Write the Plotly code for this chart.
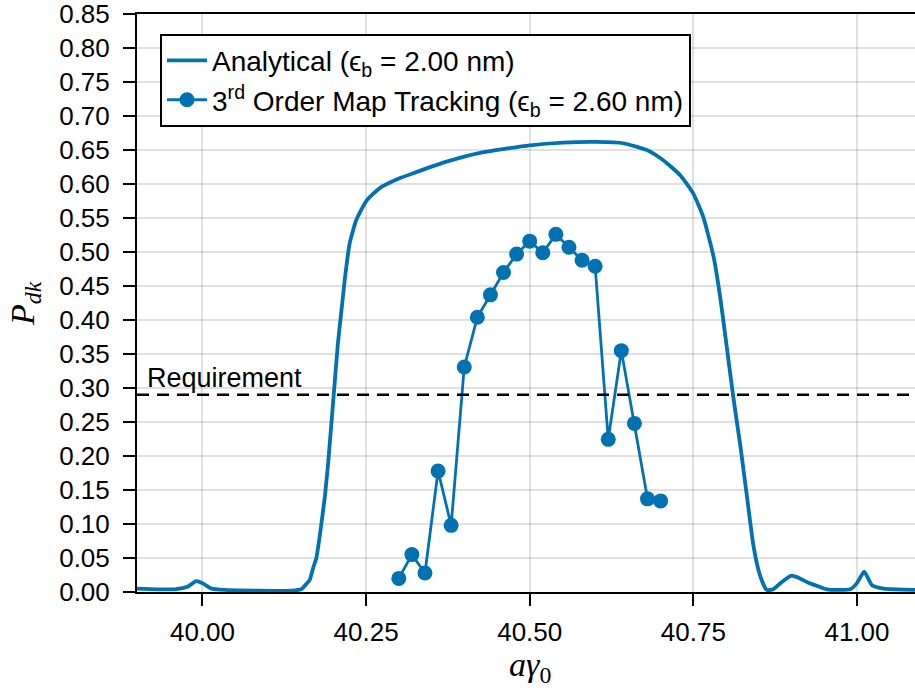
import plotly.graph_objects as go

# ---- data ----
ana_x = [39.90, 39.93, 39.958, 39.978, 39.99, 40.00, 40.014, 40.034, 40.085, 40.136,
         40.151, 40.159, 40.164, 40.169, 40.174, 40.179, 40.187, 40.192, 40.197, 40.202,
         40.207, 40.2125, 40.218, 40.225, 40.235, 40.251, 40.271, 40.30, 40.322, 40.373,
         40.424, 40.50, 40.551, 40.602, 40.643, 40.679, 40.704, 40.730, 40.750, 40.765,
         40.781, 40.791, 40.801, 40.811, 40.822, 40.832, 40.842, 40.852, 40.862, 40.872,
         40.883, 40.90, 40.913, 40.925, 40.939, 40.954, 40.99, 41.00, 41.011, 41.023,
         41.041, 41.10]
ana_y = [0.005, 0.004, 0.004, 0.008, 0.016, 0.013, 0.005, 0.003, 0.002, 0.002,
         0.004, 0.012, 0.018, 0.035, 0.050, 0.081, 0.140, 0.189, 0.248, 0.307,
         0.366, 0.415, 0.464, 0.513, 0.547, 0.576, 0.594, 0.608, 0.616, 0.633,
         0.646, 0.657, 0.661, 0.662, 0.660, 0.650, 0.635, 0.613, 0.586, 0.552,
         0.493, 0.434, 0.361, 0.287, 0.214, 0.140, 0.067, 0.024, 0.003, 0.004,
         0.013, 0.024, 0.020, 0.014, 0.009, 0.004, 0.004, 0.013, 0.030, 0.010,
         0.005, 0.003]

trk_x = [40.30, 40.32, 40.34, 40.36, 40.38, 40.40, 40.42, 40.44, 40.46, 40.48, 40.50,
         40.52, 40.54, 40.56, 40.58, 40.60, 40.62, 40.64, 40.66, 40.68, 40.70]
trk_y = [0.020, 0.055, 0.028, 0.178, 0.098, 0.331, 0.404, 0.437, 0.470, 0.497, 0.516,
         0.499, 0.526, 0.507, 0.488, 0.479, 0.2245, 0.355, 0.248, 0.137, 0.134]

requirement = 0.29
x_ticks = [40.00, 40.25, 40.50, 40.75, 41.00]
y_ticks = [round(0.05 * i, 2) for i in range(18)]

BLUE = "#0072B2"
FONT = "Liberation Sans"
MATH = "Liberation Serif"

fig = go.Figure()
fig.add_trace(go.Scatter(
    x=ana_x, y=ana_y, mode="lines", name="Analytical (ϵ<sub>b</sub> = 2.00 nm)",
    line=dict(color=BLUE, width=3.8, shape="spline", smoothing=0.5)))
fig.add_trace(go.Scatter(
    x=trk_x, y=trk_y, mode="lines+markers",
    name="3<sup>rd</sup> Order Map Tracking (ϵ<sub>b</sub> = 2.60 nm)",
    line=dict(color=BLUE, width=2.8), marker=dict(color=BLUE, size=15)))

fig.add_shape(type="line", xref="paper", yref="y", x0=0, x1=1, y0=requirement, y1=requirement,
              line=dict(color="black", width=2.5, dash="12px,8px"))
fig.add_annotation(text="Requirement", xref="paper", yref="y", x=0.0103, y=requirement,
                   xanchor="left", yanchor="bottom", yshift=0, showarrow=False,
                   font=dict(family=FONT, size=27, color="black"))

fig.add_annotation(text="<i>P</i><sub><i>dk</i></sub>", xref="paper", yref="paper",
                   x=-0.144, y=0.5, xanchor="center", yanchor="middle", textangle=-90,
                   showarrow=False, font=dict(family=MATH, size=34, color="black"))
fig.add_annotation(text="<i>aγ</i><sub>0</sub>", xref="x", yref="paper",
                   x=40.50, y=-0.13, xanchor="center", yanchor="middle",
                   showarrow=False, font=dict(family=MATH, size=34, color="black"))

fig.update_layout(
    width=915, height=692,
    margin=dict(l=137, r=0, t=14, b=100),
    paper_bgcolor="white", plot_bgcolor="white",
    font=dict(family=FONT, size=26, color="black"),
    showlegend=True,
    legend=dict(x=0.0296, y=0.966, xanchor="left", yanchor="top",
                bordercolor="black", borderwidth=2, bgcolor="white",
                font=dict(family=FONT, size=28), tracegroupgap=0, itemwidth=40),
)
fig.update_xaxes(
    range=[39.9, 41.0887], tickvals=x_ticks, ticktext=[f"{v:.2f}" for v in x_ticks],
    showgrid=True, gridcolor="rgba(0,0,0,0.12)", gridwidth=1.5, zeroline=False,
    showline=True, linecolor="black", linewidth=2, mirror=True,
    ticks="outside", ticklen=12, tickwidth=2, tickcolor="black", ticklabelstandoff=4,
    tickfont=dict(family=FONT, size=26))
fig.update_yaxes(
    range=[0, 0.8501], tickvals=y_ticks, ticktext=[f"{v:.2f}" for v in y_ticks],
    showgrid=True, gridcolor="rgba(0,0,0,0.12)", gridwidth=1.5, zeroline=False,
    showline=True, linecolor="black", linewidth=2, mirror=False,
    ticks="outside", ticklen=12, tickwidth=2, tickcolor="black", ticklabelstandoff=8,
    ticklabeloverflow="allow", tickfont=dict(family=FONT, size=26))

fig.write_html("out.html")
